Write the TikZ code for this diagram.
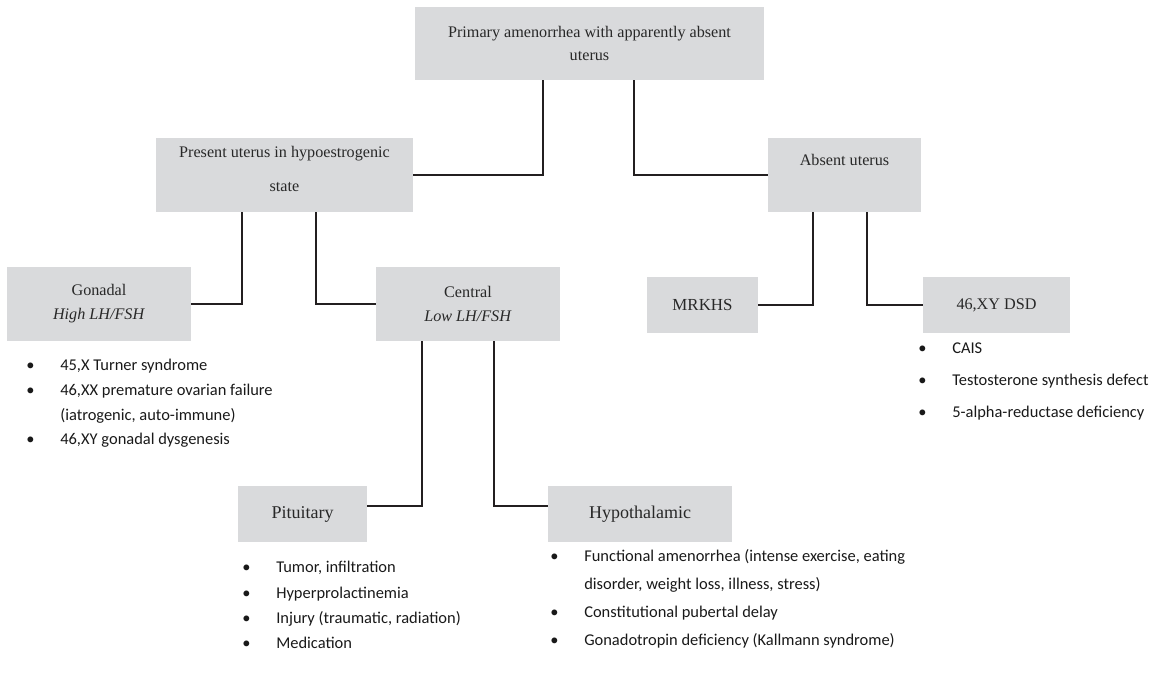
\documentclass[tikz,border=0pt]{standalone}
\usepackage{fontspec}
\setmainfont{Liberation Serif}
\newfontfamily\listfont{Carlito}
\definecolor{boxgray}{RGB}{217,218,220}
\definecolor{linegray}{RGB}{35,31,32}
\definecolor{textgray}{RGB}{40,40,40}
\tikzset{
  box/.style={fill=boxgray, inner sep=0pt, align=center, text=textgray,
    font=\fontsize{11.5}{17}\selectfont},
  link/.style={draw=linegray, line width=2pt},
  itemlist/.style={anchor=north west, inner sep=0pt, align=left, text=black!90}
}
\newcommand{\bul}{\makebox[0.85cm][l]{\textbullet}}
\newcommand{\cont}{\hspace*{0.85cm}}
\begin{document}
\begin{tikzpicture}[x=0.025cm,y=-0.025cm]
\useasboundingbox (0,0) rectangle (1167,677);
% boxes
\node[box, minimum width=8.725cm, minimum height=1.825cm,
  font=\fontsize{11.5}{16.4}\selectfont] (top) at (589.5,43.5)
  {Primary amenorrhea with apparently absent\\uterus};
\node[box, minimum width=6.425cm, minimum height=1.85cm, text depth=0.3cm,
  font=\fontsize{11.5}{24}\selectfont] (present) at (284.5,175)
  {Present uterus in hypoestrogenic\\state};
\node[box, minimum width=3.825cm, minimum height=1.85cm] (absent) at (844.5,175)
  {Absent uterus\\\strut};
\node[box, minimum width=4.6cm, minimum height=1.85cm] (gonadal) at (99,304)
  {Gonadal\\\textit{High LH/FSH}};
\node[box, minimum width=4.6cm, minimum height=1.85cm] (central) at (468,304)
  {Central\\\textit{Low LH/FSH}};
\node[box, minimum width=2.775cm, minimum height=1.4cm,
  font=\fontsize{12}{17}\selectfont] (mrkhs) at (702.5,305) {MRKHS};
\node[box, minimum width=3.675cm, minimum height=1.4cm] (xydsd) at (996.5,305) {46,XY DSD};
\node[box, minimum width=3.225cm, minimum height=1.4cm,
  font=\fontsize{12.8}{17}\selectfont] (pituitary) at (302.5,514) {Pituitary};
\node[box, minimum width=4.6cm, minimum height=1.4cm,
  font=\fontsize{12.8}{17}\selectfont] (hypothal) at (640,514) {Hypothalamic};
% connectors
\draw[link] ([xshift=-1.1625cm]top.south) |- (present.east);
\draw[link] ([xshift=1.1125cm]top.south) |- (absent.west);
\draw[link] ([xshift=-1.0625cm]present.south) |- (gonadal.east);
\draw[link] ([xshift=0.7875cm]present.south) |- (central.west);
\draw[link] ([xshift=-0.7875cm]absent.south) |- (mrkhs.east);
\draw[link] ([xshift=0.5625cm]absent.south) |- (xydsd.west);
\draw[link] ([xshift=-1.15cm]central.south) |- ([yshift=0.2cm]pituitary.east);
\draw[link] ([xshift=0.65cm]central.south) |- ([yshift=0.2cm]hypothal.west);
% lists
\node[itemlist, font=\listfont\fontsize{11.7}{17.6}\selectfont] (glist) at (26,359)
  {\bul 45,X Turner syndrome\\
   \bul 46,XX premature ovarian failure\\
   \cont (iatrogenic, auto-immune)\\
   \bul 46,XY gonadal dysgenesis};
\node[itemlist, font=\listfont\fontsize{11.7}{18}\selectfont] (plist) at (242,561)
  {\bul Tumor, infiltration\\
   \bul Hyperprolactinemia\\
   \bul Injury (traumatic, radiation)\\
   \bul Medication};
\node[itemlist, font=\listfont\fontsize{11.7}{19.9}\selectfont] (hlist) at (550,549)
  {\bul Functional amenorrhea (intense exercise, eating\\
   \cont disorder, weight loss, illness, stress)\\
   \bul Constitutional pubertal delay\\
   \bul Gonadotropin deficiency (Kallmann syndrome)};
\node[itemlist, font=\listfont\fontsize{11.7}{22.7}\selectfont] (xlist) at (918,343)
  {\bul CAIS\\
   \bul Testosterone synthesis defect\\
   \bul 5-alpha-reductase deficiency};
\end{tikzpicture}
\end{document}
